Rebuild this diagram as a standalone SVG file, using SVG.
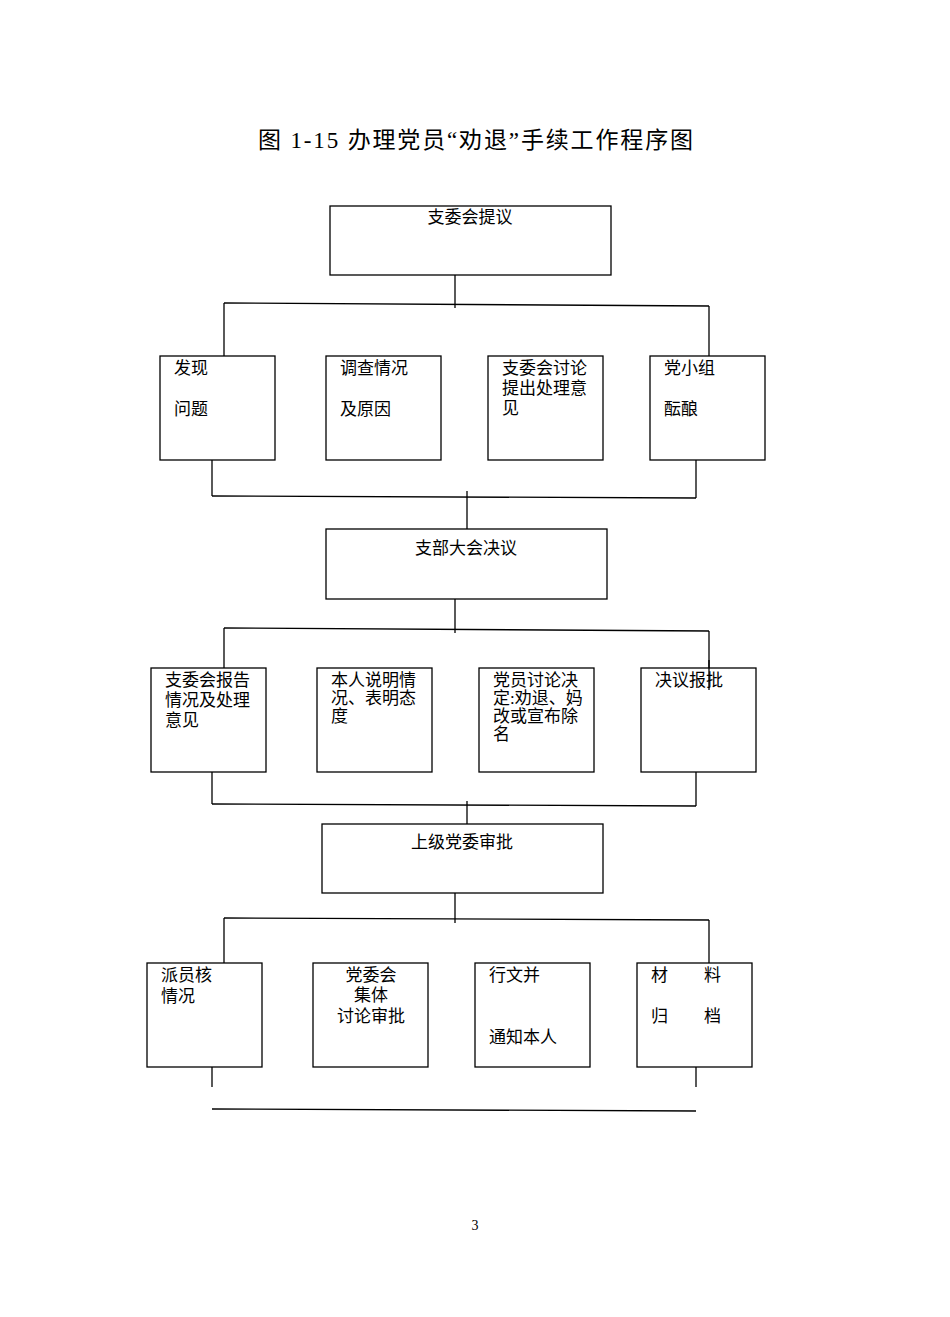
<svg xmlns="http://www.w3.org/2000/svg" width="950" height="1317" viewBox="0 0 950 1317">
<style>
rect{fill:#fff;stroke:#000;stroke-width:1.3}
line{stroke:#000;stroke-width:1.3}
text{font-family:"Liberation Serif","Noto Sans CJK SC",serif;font-size:17px;fill:#000}
.t{font-size:23px}
</style>
<rect x="0" y="0" width="950" height="1317" style="stroke:none"/>
<text class="t" x="258" y="148" textLength="435" lengthAdjust="spacing">图 1-15 办理党员“劝退”手续工作程序图</text>
<g id="connectors">
<line x1="455" y1="275" x2="455" y2="308"/>
<line x1="224" y1="303" x2="709" y2="306"/>
<line x1="224" y1="303" x2="224" y2="356"/>
<line x1="709" y1="306" x2="709" y2="356"/>
<line x1="212" y1="444" x2="212" y2="496"/>
<line x1="696" y1="444" x2="696" y2="498"/>
<line x1="212" y1="496" x2="696" y2="498"/>
<line x1="467" y1="491" x2="467" y2="529"/>
<line x1="455" y1="599" x2="455" y2="633"/>
<line x1="224" y1="628" x2="709" y2="631"/>
<line x1="224" y1="628" x2="224" y2="668"/>
<line x1="709" y1="631" x2="709" y2="690"/>
<line x1="212" y1="772" x2="212" y2="804"/>
<line x1="696" y1="772" x2="696" y2="806"/>
<line x1="212" y1="804" x2="696" y2="806"/>
<line x1="467" y1="801" x2="467" y2="824"/>
<line x1="455" y1="893" x2="455" y2="923"/>
<line x1="224" y1="918" x2="709" y2="920"/>
<line x1="224" y1="918" x2="224" y2="963"/>
<line x1="709" y1="920" x2="709" y2="963"/>
<line x1="212" y1="1067" x2="212" y2="1087"/>
<line x1="696" y1="1067" x2="696" y2="1087"/>
<line x1="212" y1="1109" x2="696" y2="1111"/>
</g>
<g id="n1"><rect x="330" y="206" width="281" height="69"/><text x="470" y="223" text-anchor="middle">支委会提议</text></g>
<g id="n2"><rect x="160" y="356" width="115" height="104"/><text x="174" y="374">发现</text><text x="174" y="415">问题</text></g>
<g id="n3"><rect x="326" y="356" width="115" height="104"/><text x="340" y="374">调查情况</text><text x="340" y="415">及原因</text></g>
<g id="n4"><rect x="488" y="356" width="115" height="104"/><text x="502" y="374">支委会讨论</text><text x="502" y="394">提出处理意</text><text x="502" y="414">见</text></g>
<g id="n5"><rect x="650" y="356" width="115" height="104"/><text x="664" y="374">党小组</text><text x="664" y="415">酝酿</text></g>
<g id="n6"><rect x="326" y="529" width="281" height="70"/><text x="466" y="554" text-anchor="middle">支部大会决议</text></g>
<g id="n7"><rect x="151" y="668" width="115" height="104"/><text x="165" y="686">支委会报告</text><text x="165" y="706">情况及处理</text><text x="165" y="726">意见</text></g>
<g id="n8"><rect x="317" y="668" width="115" height="104"/><text x="331" y="686">本人说明情</text><text x="331" y="704">况、表明态</text><text x="331" y="722">度</text></g>
<g id="n9"><rect x="479" y="668" width="115" height="104"/><text x="493" y="686">党员讨论决</text><text x="493" y="704">定:劝退、妈</text><text x="493" y="722">改或宣布除</text><text x="493" y="740">名</text></g>
<g id="n10"><rect x="641" y="668" width="115" height="104"/><text x="655" y="686">决议报批</text></g>
<g id="connectors2"><line x1="709" y1="660" x2="709" y2="690"/></g>
<g id="n11"><rect x="322" y="824" width="281" height="69"/><text x="462" y="848" text-anchor="middle">上级党委审批</text></g>
<g id="n12"><rect x="147" y="963" width="115" height="104"/><text x="161" y="981">派员核</text><text x="161" y="1002">情况</text></g>
<g id="n13"><rect x="313" y="963" width="115" height="104"/><text x="371" y="981" text-anchor="middle">党委会</text><text x="371" y="1001" text-anchor="middle">集体</text><text x="371" y="1022" text-anchor="middle">讨论审批</text></g>
<g id="n14"><rect x="475" y="963" width="115" height="104"/><text x="489" y="981">行文并</text><text x="489" y="1043">通知本人</text></g>
<g id="n15"><rect x="637" y="963" width="115" height="104"/><text x="651" y="981">材</text><text x="704" y="981">料</text><text x="651" y="1022">归</text><text x="704" y="1022">档</text></g>
<text x="475" y="1230" text-anchor="middle" style="font-size:14px">3</text>
</svg>
